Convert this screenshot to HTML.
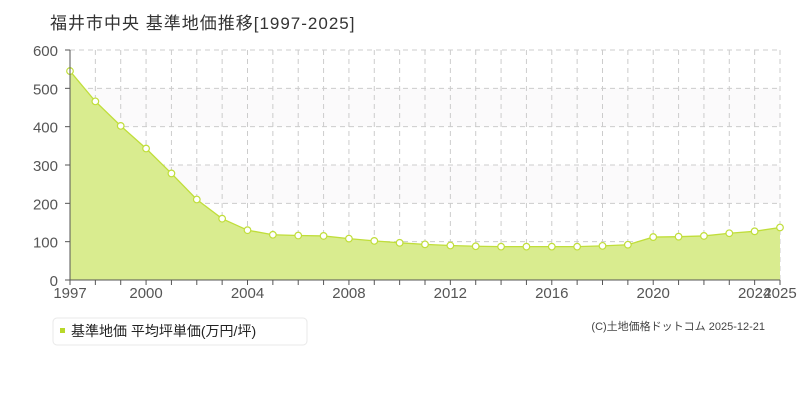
<!DOCTYPE html><html><head><meta charset="utf-8"><style>body{margin:0;background:#fff}svg{display:block}text{font-family:"Liberation Sans","Noto Sans CJK JP",sans-serif}</style></head><body>
<svg id="s" width="800" height="400" xmlns="http://www.w3.org/2000/svg">
<text x="50" y="29" font-size="17" fill="#333" letter-spacing="1">福井市中央 基準地価推移[1997-2025]</text>
<rect x="70" y="88.3" width="710" height="38.3" fill="#fbfafb"/>
<rect x="70" y="165" width="710" height="38.3" fill="#fbfafb"/>
<g id="g"></g>
<rect x="53" y="318" width="254" height="27" rx="4" fill="#fff" stroke="#e8e8e8"/>
<rect x="60" y="328" width="5" height="5" fill="#b8d82a"/>
<text x="71" y="336" font-size="14" fill="#222">基準地価 平均坪単価(万円/坪)</text>
<text x="765" y="330" font-size="11" fill="#444" text-anchor="end">(C)土地価格ドットコム 2025-12-21</text>
</svg>
<script>
var d=[545,466,402,343,278,210,160,130,118,116,115,108,102,97,93,90,88,87,87,87,87,89,92,112,113,115,122,127,137];
var X=function(i){return 70+i*710/28},Y=function(v){return 280-v*230/600};
var h='';
for(var v=100;v<=600;v+=100)h+='<line x1="70" x2="780" y1="'+Y(v)+'" y2="'+Y(v)+'" stroke="#ccc" stroke-dasharray="5,4"/>';
for(var i=1;i<=28;i++)h+='<line y1="50" y2="280" x1="'+X(i)+'" x2="'+X(i)+'" stroke="#ccc" stroke-dasharray="5,4"/>';
var p='M70,280';d.forEach(function(v,i){p+=' L'+X(i)+','+Y(v)});p+=' L780,280Z';
h+='<path d="'+p+'" fill="#d9ec8f" stroke="none"/>';
var l='';d.forEach(function(v,i){l+=(i?' L':'M')+X(i)+','+Y(v)});
h+='<path d="'+l+'" fill="none" stroke="#c0de3a" stroke-width="1.3"/>';
d.forEach(function(v,i){h+='<circle cx="'+X(i)+'" cy="'+Y(v)+'" r="3.3" fill="#fff" stroke="#c0de3a" stroke-width="1.2"/>'});
h+='<line x1="70" x2="70" y1="50" y2="280" stroke="#555"/><line x1="70" x2="780" y1="280" y2="280" stroke="#555"/>';
for(var v=0;v<=600;v+=100){h+='<line x1="65" x2="70" y1="'+Y(v)+'" y2="'+Y(v)+'" stroke="#555"/><text x="58" y="'+(Y(v)+6)+'" font-size="15" fill="#555" text-anchor="end">'+v+'</text>'}
for(var i=0;i<=28;i++){h+='<line y1="280" y2="285" x1="'+X(i)+'" x2="'+X(i)+'" stroke="#555"/>'}
[[0,'1997'],[3,'2000'],[7,'2004'],[11,'2008'],[15,'2012'],[19,'2016'],[23,'2020'],[27,'2024'],[28,'2025']].forEach(function(a){h+='<text x="'+X(a[0])+'" y="298" font-size="15" fill="#555" text-anchor="middle">'+a[1]+'</text>'});
document.getElementById('g').innerHTML=h;
</script></body></html>
